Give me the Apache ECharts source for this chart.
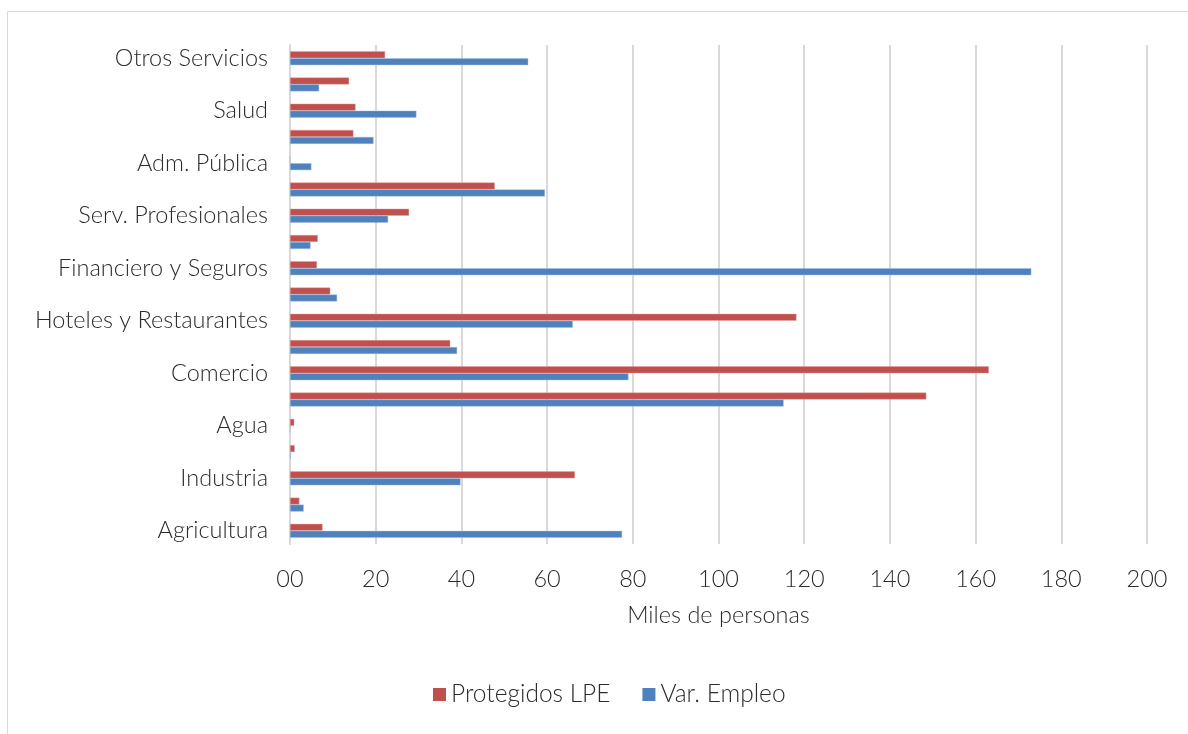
<!DOCTYPE html>
<html>
<head>
<meta charset="utf-8">
<script src="https://cdn.jsdelivr.net/npm/echarts@6/dist/echarts.min.js"></script>
<style>
  html, body { margin: 0; padding: 0; background: #fff; }
  #chart { width: 1188px; height: 734px; }
</style>
</head>
<body>
<div id="chart"></div>
<script>
// sectores, de abajo hacia arriba (solo se rotula uno de cada dos)
var categories = ['Agricultura', 'Minería', 'Industria', 'Electricidad', 'Agua', 'Construcción',
    'Comercio', 'Transporte', 'Hoteles y Restaurantes', 'Información y Comunicaciones',
    'Financiero y Seguros', 'Inmobiliarias', 'Serv. Profesionales', 'Serv. Administrativos',
    'Adm. Pública', 'Enseñanza', 'Salud', 'Arte y Entretenimiento', 'Otros Servicios'];
// miles de personas
var protegidosLPE = [7.6, 2.2, 66.5, 1.1, 1.0, 148.5, 163.1, 37.4, 118.2, 9.4, 6.3, 6.5, 27.8, 47.8, 0, 14.8, 15.3, 13.8, 22.2];
var varEmpleo = [77.5, 3.2, 39.8, 0.2, 0, 115.2, 79.0, 39.0, 66.0, 11.0, 173.0, 4.8, 22.9, 59.5, 5.0, 19.5, 29.5, 6.8, 55.6];
var xTicks = [0, 20, 40, 60, 80, 100, 120, 140, 160, 180, 200];

var FONT = 'Lato';
var SIZE = 23.5;
var TXT = '#2b2b2b';

var chart = echarts.init(document.getElementById('chart'));
chart.setOption({
    animation: false,
    textStyle: { fontFamily: FONT },
    graphic: [{
        type: 'polyline',
        shape: { points: [[7.5, 734], [7.5, 11.5], [1188, 11.5]] },
        style: { stroke: '#d9d9d9', lineWidth: 1, fill: null }
    }],
    grid: { left: 290, right: 41, top: 45, bottom: 190 },
    legend: {
        data: ['Protegidos LPE', 'Var. Empleo'],
        bottom: 22,
        left: 428,
        icon: 'rect',
        itemWidth: 13,
        itemHeight: 13,
        itemGap: 32,
        itemStyle: { borderWidth: 0 },
        textStyle: { fontFamily: FONT, fontWeight: 300, fontSize: 24.5, color: TXT }
    },
    xAxis: {
        type: 'value',
        min: xTicks[0],
        max: xTicks[xTicks.length - 1],
        interval: 20,
        name: 'Miles de personas',
        nameLocation: 'middle',
        nameGap: 59,
        nameTextStyle: { fontFamily: FONT, fontWeight: 300, fontSize: SIZE, color: TXT },
        axisLine: { show: false },
        axisTick: { show: false },
        axisLabel: {
            margin: 23,
            fontSize: SIZE,
            fontWeight: 300,
            color: TXT,
            formatter: function (v) { return v === 0 ? '00' : String(v); }
        },
        splitLine: { lineStyle: { color: '#d9d9d9', width: 2 } }
    },
    yAxis: {
        type: 'category',
        data: categories,
        axisLine: { lineStyle: { color: '#d9d9d9', width: 2 } },
        axisTick: { show: false },
        axisLabel: { interval: 1, margin: 22, fontSize: SIZE, fontWeight: 300, color: TXT }
    },
    series: [{
        name: 'Protegidos LPE',
        type: 'bar',
        data: protegidosLPE,
        barWidth: 7,
        barGap: '0%',
        itemStyle: { color: '#C0504D', borderColor: 'rgba(230,160,160,0.9)', borderWidth: 0.5 }
    }, {
        name: 'Var. Empleo',
        type: 'bar',
        data: varEmpleo,
        barWidth: 7,
        barGap: '0%',
        itemStyle: { color: '#4F81BD', borderColor: 'rgba(160,190,225,0.9)', borderWidth: 0.5 }
    }]
});
</script>
</body>
</html>
